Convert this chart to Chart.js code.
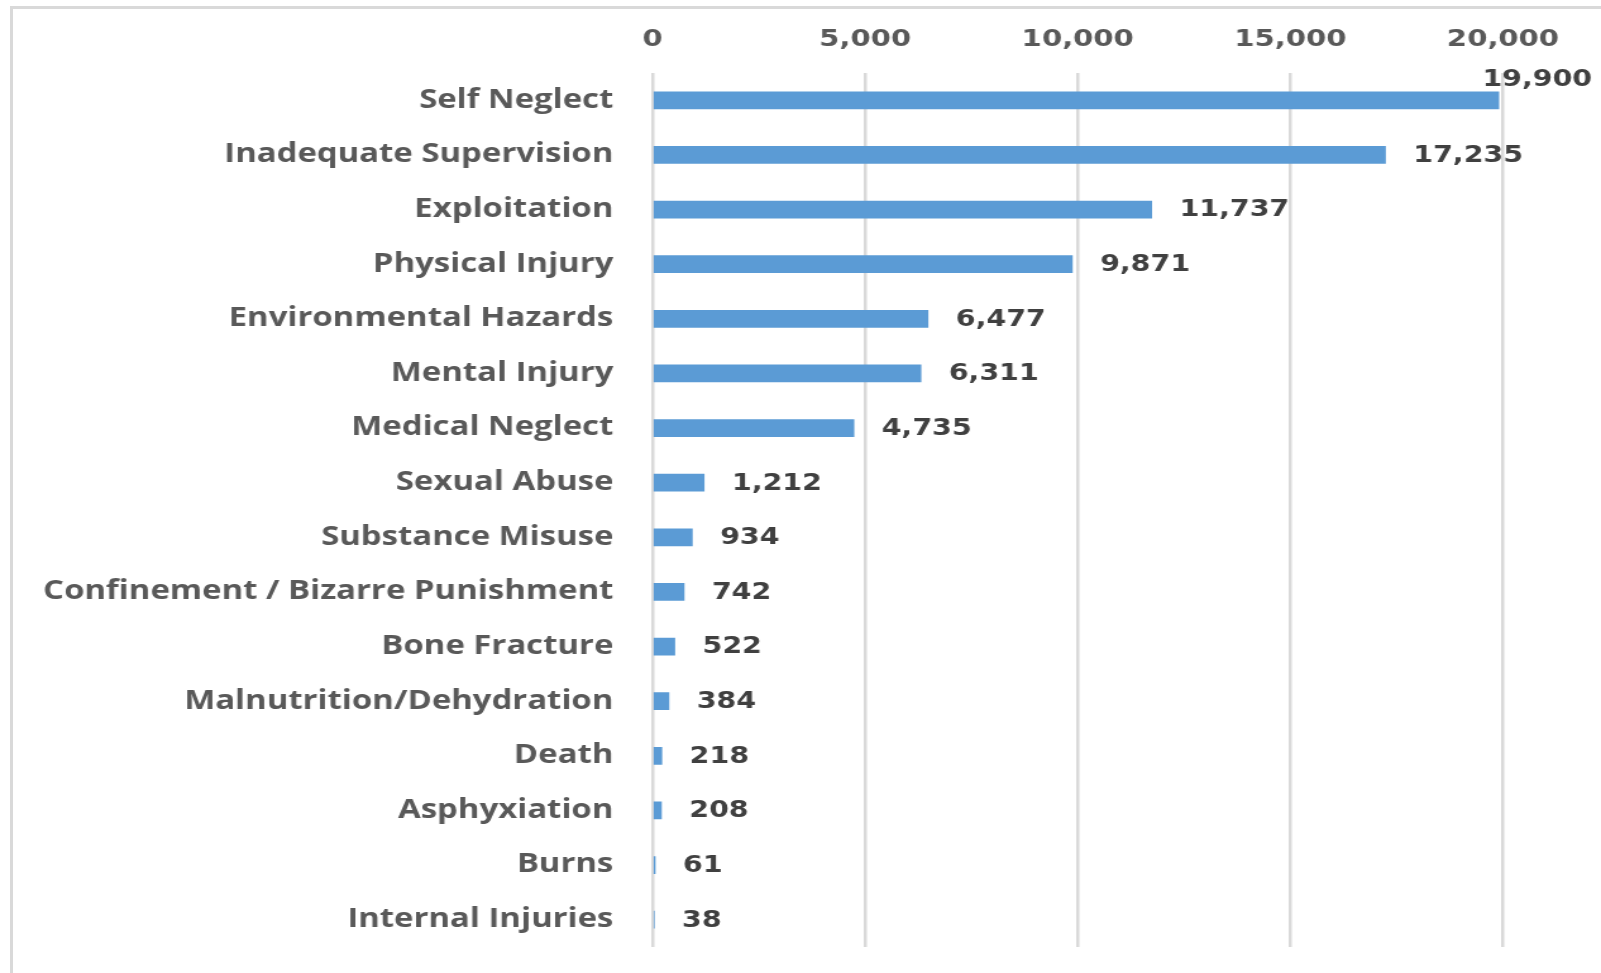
<!DOCTYPE html>
<html>
<head>
<meta charset="utf-8">
<script src="https://cdn.jsdelivr.net/npm/chart.js@4"></script>
<style>
  html, body { margin: 0; padding: 0; background: #fff; }
  #wrap { position: relative; width: 1601px; height: 973px; overflow: hidden; }
  #frame { position: absolute; left: 10px; top: 6px; width: 1600px; height: 980px;
           border-left: 3px solid #d9d9d9; border-top: 3px solid #d9d9d9; }
  /* the canvas is drawn narrower and widened by css, which gives the wide lettering */
  #chart { position: absolute; left: 0; top: 0; width: 1601px; height: 973px; }
</style>
</head>
<body>
<div id="wrap">
  <div id="frame"></div>
  <canvas id="chart" width="1266" height="973" style="width:1601px;height:973px"></canvas>
</div>
<script>
const categories = ["Self Neglect", "Inadequate Supervision", "Exploitation", "Physical Injury",
    "Environmental Hazards", "Mental Injury", "Medical Neglect", "Sexual Abuse", "Substance Misuse",
    "Confinement / Bizarre Punishment", "Bone Fracture", "Malnutrition/Dehydration", "Death",
    "Asphyxiation", "Burns", "Internal Injuries"];
const counts = [19900, 17235, 11737, 9871, 6477, 6311, 4735, 1212, 934, 742, 522, 384, 218, 208, 61, 38];
const xTicks = [0, 5000, 10000, 15000, 20000];

// numbers at the end of each bar
const valueLabels = {
    id: 'valueLabels',
    afterDatasetsDraw(chart) {
        const ctx = chart.ctx;
        const meta = chart.getDatasetMeta(0);
        ctx.save();
        ctx.font = 'bold 22.5px "DejaVu Sans"';
        ctx.fillStyle = '#404040';
        ctx.textBaseline = 'middle';
        meta.data.forEach((bar, i) => {
            const txt = counts[i].toLocaleString('en-US');
            const w = ctx.measureText(txt).width;
            let x = bar.x + 22, y = bar.y + 1;
            // no room on the right: put it above the bar end
            if (x + w > chart.width - 4) { x = bar.x - 13; y = bar.y - 20; }
            ctx.fillText(txt, x, y);
        });
        ctx.restore();
    }
};

new Chart(document.getElementById('chart').getContext('2d'), {
    type: 'bar',
    data: {
        labels: categories,
        datasets: [{
            data: counts,
            backgroundColor: '#5b9bd5',
            barThickness: 17
        }]
    },
    options: {
        indexAxis: 'y',
        responsive: false,
        maintainAspectRatio: false,
        animation: false,
        devicePixelRatio: 1,
        layout: { padding: { left: 0, right: 77.5, top: 0, bottom: 26 } },
        plugins: { legend: { display: false }, tooltip: { enabled: false } },
        scales: {
            x: {
                position: 'top',
                min: 0,
                max: 20000,
                afterBuildTicks: s => { s.ticks = xTicks.map(v => ({ value: v })); },
                afterFit: s => { s.height = 73; },
                grid: { color: '#d9d9d9', lineWidth: 2.5, drawTicks: false },
                border: { display: false },
                ticks: {
                    padding: 19,
                    color: '#595959',
                    font: { family: 'DejaVu Sans', weight: 'bold', size: 23 },
                    callback: v => v.toLocaleString('en-US')
                }
            },
            y: {
                // fixed width, and no extra room above/below for the labels
                afterFit: s => { s.width = 516; s.paddingTop = 0; s.paddingBottom = 0; },
                grid: { display: false, drawTicks: false },
                border: { display: false },
                ticks: {
                    padding: 31,
                    color: '#595959',
                    font: { family: 'Open Sans', weight: 'bold', size: 26 }
                }
            }
        }
    },
    plugins: [valueLabels]
});
</script>
</body>
</html>
